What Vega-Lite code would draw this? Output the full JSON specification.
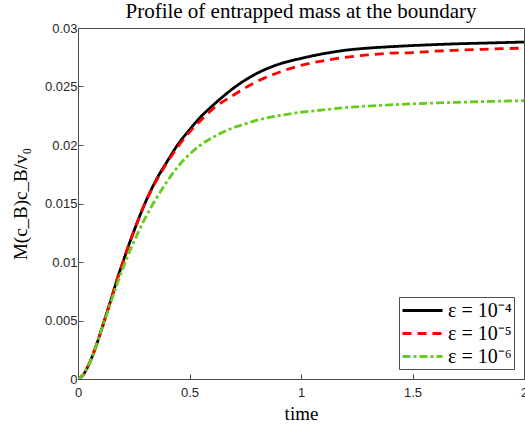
{
  "$schema": "https://vega.github.io/schema/vega-lite/v6.json",
  "width": 446,
  "height": 351,
  "autosize": {"type": "none"},
  "padding": {"left": 78, "top": 28, "right": 1, "bottom": 45},
  "background": "white",
  "title": {"text": "Profile of entrapped mass at the boundary", "font": "Liberation Serif", "fontSize": 21, "fontWeight": "normal", "color": "#000000", "offset": 0, "anchor": "middle"},
  "config": {
    "view": {"stroke": "#4d4d4d", "strokeWidth": 1},
    "axis": {"grid": false, "domainColor": "#4d4d4d", "tickColor": "#4d4d4d", "labelColor": "#262626", "labelFont": "Liberation Sans", "labelFontSize": 13, "titleFont": "Liberation Serif", "titleFontWeight": "normal", "titleFontSize": 19, "titleColor": "#000000", "tickSize": -5}
  },
  "data": {"values": [
    {"t": 0, "v": 0, "s": "e4"}, {"t": 0.025, "v": 0.0004, "s": "e4"}, {"t": 0.05, "v": 0.0013, "s": "e4"}, {"t": 0.075, "v": 0.0025, "s": "e4"}, {"t": 0.1, "v": 0.0039, "s": "e4"}, {"t": 0.125, "v": 0.0054, "s": "e4"}, {"t": 0.15, "v": 0.0069, "s": "e4"}, {"t": 0.175, "v": 0.0085, "s": "e4"}, {"t": 0.2, "v": 0.0099, "s": "e4"}, {"t": 0.225, "v": 0.0113, "s": "e4"}, {"t": 0.25, "v": 0.0126, "s": "e4"}, {"t": 0.3, "v": 0.015, "s": "e4"}, {"t": 0.35, "v": 0.017, "s": "e4"}, {"t": 0.4, "v": 0.0186, "s": "e4"}, {"t": 0.45, "v": 0.0201, "s": "e4"}, {"t": 0.5, "v": 0.0213, "s": "e4"}, {"t": 0.55, "v": 0.0224, "s": "e4"}, {"t": 0.6, "v": 0.0233, "s": "e4"}, {"t": 0.7, "v": 0.0249, "s": "e4"}, {"t": 0.8, "v": 0.0261, "s": "e4"}, {"t": 0.9, "v": 0.0269, "s": "e4"}, {"t": 1.0, "v": 0.0274, "s": "e4"}, {"t": 1.1, "v": 0.0278, "s": "e4"}, {"t": 1.2, "v": 0.0281, "s": "e4"}, {"t": 1.3, "v": 0.02828, "s": "e4"}, {"t": 1.4, "v": 0.0284, "s": "e4"}, {"t": 1.5, "v": 0.0285, "s": "e4"}, {"t": 1.6, "v": 0.02858, "s": "e4"}, {"t": 1.7, "v": 0.02865, "s": "e4"}, {"t": 1.8, "v": 0.0287, "s": "e4"}, {"t": 1.9, "v": 0.02875, "s": "e4"}, {"t": 2.0, "v": 0.0288, "s": "e4"},
    {"t": 0, "v": 0, "s": "e5"}, {"t": 0.025, "v": 0.0004, "s": "e5"}, {"t": 0.05, "v": 0.0013, "s": "e5"}, {"t": 0.075, "v": 0.0025, "s": "e5"}, {"t": 0.1, "v": 0.0039, "s": "e5"}, {"t": 0.125, "v": 0.0054, "s": "e5"}, {"t": 0.15, "v": 0.0069, "s": "e5"}, {"t": 0.175, "v": 0.0085, "s": "e5"}, {"t": 0.2, "v": 0.0099, "s": "e5"}, {"t": 0.225, "v": 0.0113, "s": "e5"}, {"t": 0.25, "v": 0.0126, "s": "e5"}, {"t": 0.3, "v": 0.015, "s": "e5"}, {"t": 0.35, "v": 0.0169, "s": "e5"}, {"t": 0.4, "v": 0.0185, "s": "e5"}, {"t": 0.45, "v": 0.0199, "s": "e5"}, {"t": 0.5, "v": 0.0211, "s": "e5"}, {"t": 0.55, "v": 0.0221, "s": "e5"}, {"t": 0.6, "v": 0.023, "s": "e5"}, {"t": 0.7, "v": 0.0243, "s": "e5"}, {"t": 0.8, "v": 0.0254, "s": "e5"}, {"t": 0.9, "v": 0.0262, "s": "e5"}, {"t": 1.0, "v": 0.0268, "s": "e5"}, {"t": 1.1, "v": 0.0272, "s": "e5"}, {"t": 1.2, "v": 0.0275, "s": "e5"}, {"t": 1.3, "v": 0.0277, "s": "e5"}, {"t": 1.4, "v": 0.02785, "s": "e5"}, {"t": 1.5, "v": 0.0279, "s": "e5"}, {"t": 1.6, "v": 0.02802, "s": "e5"}, {"t": 1.7, "v": 0.0281, "s": "e5"}, {"t": 1.8, "v": 0.02817, "s": "e5"}, {"t": 1.9, "v": 0.02823, "s": "e5"}, {"t": 2.0, "v": 0.02828, "s": "e5"},
    {"t": 0, "v": 0, "s": "e6"}, {"t": 0.025, "v": 0.0004, "s": "e6"}, {"t": 0.05, "v": 0.0013, "s": "e6"}, {"t": 0.075, "v": 0.0025, "s": "e6"}, {"t": 0.1, "v": 0.0039, "s": "e6"}, {"t": 0.125, "v": 0.0053, "s": "e6"}, {"t": 0.15, "v": 0.0067, "s": "e6"}, {"t": 0.175, "v": 0.0081, "s": "e6"}, {"t": 0.2, "v": 0.0094, "s": "e6"}, {"t": 0.225, "v": 0.0106, "s": "e6"}, {"t": 0.25, "v": 0.0117, "s": "e6"}, {"t": 0.3, "v": 0.0137, "s": "e6"}, {"t": 0.35, "v": 0.0154, "s": "e6"}, {"t": 0.4, "v": 0.0169, "s": "e6"}, {"t": 0.45, "v": 0.0182, "s": "e6"}, {"t": 0.5, "v": 0.0192, "s": "e6"}, {"t": 0.55, "v": 0.02, "s": "e6"}, {"t": 0.6, "v": 0.0206, "s": "e6"}, {"t": 0.65, "v": 0.0211, "s": "e6"}, {"t": 0.7, "v": 0.0215, "s": "e6"}, {"t": 0.75, "v": 0.0218, "s": "e6"}, {"t": 0.8, "v": 0.0221, "s": "e6"}, {"t": 0.9, "v": 0.0225, "s": "e6"}, {"t": 1.0, "v": 0.0228, "s": "e6"}, {"t": 1.1, "v": 0.023, "s": "e6"}, {"t": 1.2, "v": 0.0232, "s": "e6"}, {"t": 1.3, "v": 0.02333, "s": "e6"}, {"t": 1.4, "v": 0.02343, "s": "e6"}, {"t": 1.5, "v": 0.02352, "s": "e6"}, {"t": 1.6, "v": 0.02359, "s": "e6"}, {"t": 1.7, "v": 0.02365, "s": "e6"}, {"t": 1.8, "v": 0.0237, "s": "e6"}, {"t": 1.9, "v": 0.02375, "s": "e6"}, {"t": 2.0, "v": 0.02379, "s": "e6"}
  ]},
  "layer": [
    {
      "mark": {"type": "line", "interpolate": "monotone", "strokeWidth": 2.8, "clip": true},
      "encoding": {
        "x": {"field": "t", "type": "quantitative", "scale": {"domain": [0, 2], "nice": false}, "axis": {"title": "time", "values": [0, 0.5, 1, 1.5, 2], "format": "~g", "labelPadding": 12, "titlePadding": 5, "labelFlush": false}},
        "y": {"field": "v", "type": "quantitative", "scale": {"domain": [0, 0.03], "nice": false}, "axis": {"title": "M(c_B)c_B/v₀", "values": [0, 0.005, 0.01, 0.015, 0.02, 0.025, 0.03], "format": "~g", "labelPadding": 6, "titlePadding": 14}},
        "color": {"field": "s", "type": "nominal", "scale": {"domain": ["e4", "e5", "e6"], "range": ["#000000", "#ff0000", "#66cc1a"]},
          "legend": {"title": null, "orient": "bottom-right", "offset": 10, "labelExpr": "datum.value == 'e4' ? 'ε = 10⁻⁴' : datum.value == 'e5' ? 'ε = 10⁻⁵' : 'ε = 10⁻⁶'", "labelFont": "Liberation Serif", "labelFontSize": 20, "labelColor": "#000000", "symbolType": "M-1,0H3", "symbolSize": 400, "symbolStrokeWidth": 2.8, "fillColor": "white", "strokeColor": "#4d4d4d", "padding": 2, "rowPadding": 1, "labelOffset": 24}},
        "strokeDash": {"field": "s", "type": "nominal", "scale": {"domain": ["e4", "e5", "e6"], "range": [[1, 0], [9, 6], [8, 3, 3, 3]]}, "legend": {"title": null}}
      }
    }
  ]
}
